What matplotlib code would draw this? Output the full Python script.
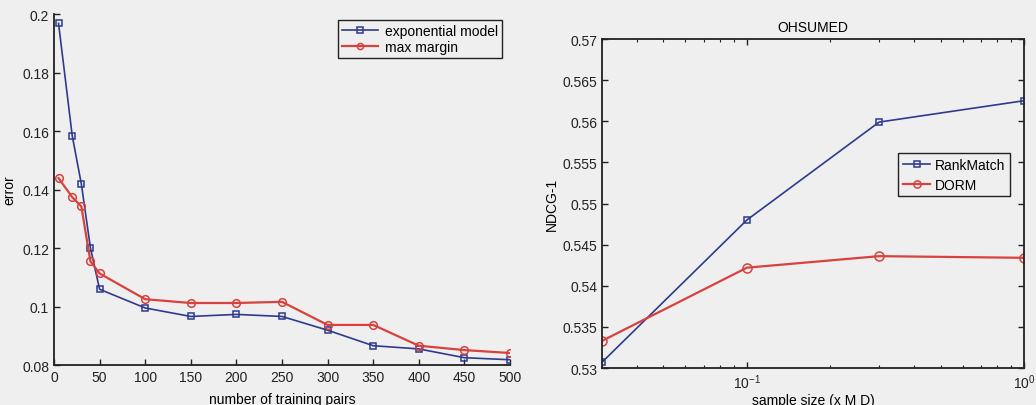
import matplotlib
matplotlib.use("Agg")
import matplotlib.pyplot as plt
from matplotlib.ticker import FormatStrFormatter, LogLocator, NullFormatter

# error vs. number of training pairs
pairs = [5, 20, 30, 40, 50, 100, 150, 200, 250, 300, 350, 400, 450, 500]
err_exp = [0.1968, 0.1584, 0.1419, 0.1200, 0.1059, 0.0995, 0.0966, 0.0973,
           0.0966, 0.0919, 0.0866, 0.0855, 0.0825, 0.0818]
err_mm = [0.1439, 0.1374, 0.1342, 0.1154, 0.1113, 0.1025, 0.1012, 0.1012,
          0.1016, 0.0937, 0.0937, 0.0866, 0.0851, 0.0841]

# OHSUMED NDCG-1 vs. sample size
sample = [0.03, 0.1, 0.3, 1.0]
ndcg_rankmatch = [0.5307, 0.5480, 0.5599, 0.5625]
ndcg_dorm = [0.5333, 0.5422, 0.5436, 0.5434]

plt.rcParams["font.family"] = ["Liberation Sans", "DejaVu Sans"]
plt.rcParams["mathtext.fontset"] = "custom"
plt.rcParams["mathtext.rm"] = "Liberation Sans"
plt.rcParams["font.size"] = 10

bg = "#efefef"
blue = "#2e3a8c"
red = "#d8413d"
ink = "#222222"

fig = plt.figure(figsize=(10.36, 4.06), dpi=100, facecolor=bg)

# left panel
ax1 = fig.add_axes([0.0521, 0.0985, 0.4402, 0.8645], facecolor=bg)
ax1.plot(pairs, err_exp, color=blue, lw=1.2, marker="s", ms=5,
         mfc="none", mew=1.1, label="exponential model")
ax1.plot(pairs, err_mm, color=red, lw=1.6, marker="o", ms=5.5,
         mfc="none", mew=1.1, label="max margin")
ax1.set_xlim(0, 500)
ax1.set_ylim(0.08, 0.2)
ax1.set_xticks(range(0, 501, 50))
ax1.set_yticks([0.08, 0.1, 0.12, 0.14, 0.16, 0.18, 0.2])
ax1.yaxis.set_major_formatter(FormatStrFormatter("%g"))
for s in ["top", "right"]:
    ax1.spines[s].set_visible(False)
for s in ["left", "bottom"]:
    ax1.spines[s].set_linewidth(1.3)
    ax1.spines[s].set_color(ink)
ax1.tick_params(direction="in", length=4, width=1, colors=ink, labelsize=10)
ax1.set_xlabel("number of training pairs")
ax1.set_ylabel("error")
ax1.xaxis.set_label_coords(0.5, -0.078)
ax1.yaxis.set_label_coords(-0.083, 0.5)
leg1 = ax1.legend(loc="upper left", bbox_to_anchor=(0.622, 0.983),
                  borderaxespad=0, fancybox=False, framealpha=1,
                  facecolor=bg, edgecolor=ink, handlelength=2.6,
                  handletextpad=0.5, borderpad=0.3, labelspacing=0.15,
                  markerscale=0.8)
leg1.get_frame().set_linewidth(1.0)

# right panel
ax2 = fig.add_axes([0.5811, 0.0911, 0.4073, 0.8103], facecolor=bg)
ax2.plot(sample, ndcg_rankmatch, color=blue, lw=1.2, marker="s", ms=5,
         mfc="none", mew=1.1, label="RankMatch")
ax2.plot(sample, ndcg_dorm, color=red, lw=1.6, marker="o", ms=6.5,
         mfc="none", mew=1.1, label="DORM")
ax2.set_xscale("log")
ax2.set_xlim(0.03, 1.0)
ax2.set_ylim(0.53, 0.57)
ax2.set_yticks([0.53, 0.535, 0.54, 0.545, 0.55, 0.555, 0.56, 0.565, 0.57])
ax2.yaxis.set_major_formatter(FormatStrFormatter("%g"))
ax2.xaxis.set_minor_locator(LogLocator(base=10, subs=range(2, 10)))
ax2.xaxis.set_minor_formatter(NullFormatter())
for s in ax2.spines.values():
    s.set_linewidth(1.3)
    s.set_color(ink)
ax2.tick_params(which="both", direction="in", top=True, right=True,
                colors=ink, labelsize=10)
ax2.tick_params(which="major", length=4, width=1)
ax2.tick_params(which="minor", length=2.5, width=0.8)
ax2.set_title("OHSUMED", fontsize=10, pad=6)
ax2.set_xlabel("sample size (x M D)")
ax2.set_ylabel("NDCG-1")
ax2.xaxis.set_label_coords(0.5, -0.075)
ax2.yaxis.set_label_coords(-0.102, 0.5)
leg2 = ax2.legend(loc="upper left", bbox_to_anchor=(0.701, 0.653),
                  borderaxespad=0, fancybox=False, framealpha=1,
                  facecolor=bg, edgecolor=ink, handlelength=2.0,
                  handletextpad=0.3, borderpad=0.35, labelspacing=0.4,
                  markerscale=0.8)
leg2.get_frame().set_linewidth(1.0)

fig.savefig("out.png", dpi=100, facecolor=bg)
